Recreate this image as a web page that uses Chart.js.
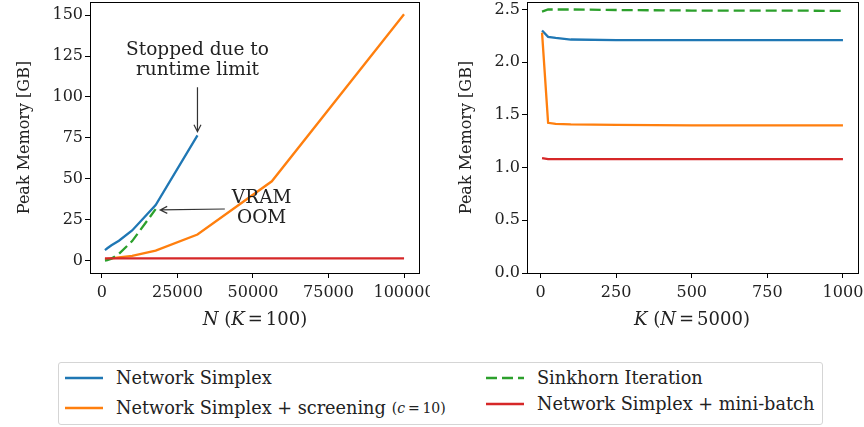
<!DOCTYPE html>
<html>
<head>
<meta charset="utf-8">
<script src="https://cdn.jsdelivr.net/npm/chart.js@4.4.0/dist/chart.umd.min.js"></script>
<style>
  body { margin: 0; background: #fff; font-family: 'DejaVu Serif', serif; color: #222; }
  #wrap { position: relative; width: 864px; height: 427px; overflow: hidden; background: #fff; }
  canvas { position: absolute; top: 0; }
  #left { left: 0; }
  #right { left: 430px; }
  .xt { position: absolute; font-size: 18px; transform: translate(-50%, -50%); white-space: nowrap; }
  .xt .eq { margin: 0 3px; }
  #legend { position: absolute; left: 58px; top: 362px; width: 765px; height: 63px;
            border: 1px solid #d5d5d5; border-radius: 3px; box-sizing: border-box; }
  .item { position: absolute; font-size: 17.7px; white-space: nowrap; display: flex; align-items: center;
          transform: translateY(-50%); }
  .item svg { margin-right: 13px; }
  .item small { font-size: 14px; margin-left: 6px; }
</style>
</head>
<body>
<div id="wrap">
  <canvas id="left" width="430" height="340"></canvas>
  <canvas id="right" width="434" height="340"></canvas>
  <div class="xt" style="left:255px;top:318px"><i>N</i> (<i>K</i><span class="eq">=</span>100)</div>
  <div class="xt" style="left:692px;top:318px"><i>K</i> (<i>N</i><span class="eq">=</span>5000)</div>
  <div id="legend"></div>
</div>
<script>
// N sweep (K = 100), log spaced 1e3 .. 1e5
const nValues      = [1000, 1778, 3162, 5623, 10000, 17783, 31623, 56234, 100000];
const simplexByN   = [6.5, 7.6, 9.4, 12.2, 18.5, 34.0, 76.5];
const screeningByN = [1.0, 1.1, 1.4, 2.0, 3.0, 6.2, 16.0, 48.5, 150.5];
const sinkhornByN  = [0.1, 0.4, 1.3, 4.2, 12.0, 31.5];
const batchByN     = [1.4, 1.4, 1.4, 1.4, 1.4, 1.4, 1.4, 1.4, 1.4];

// K sweep (N = 5000)
const kValues      = [5, 25, 50, 100, 250, 500, 750, 1000];
const simplexByK   = [2.30, 2.24, 2.23, 2.215, 2.21, 2.21, 2.21, 2.21];
const screeningByK = [2.28, 1.425, 1.415, 1.41, 1.405, 1.40, 1.40, 1.40];
const sinkhornByK  = [2.48, 2.50, 2.50, 2.50, 2.495, 2.49, 2.49, 2.487];
const batchByK     = [1.09, 1.08, 1.08, 1.08, 1.08, 1.08, 1.08, 1.08];

// tick labels
const nTicks    = [0, 25000, 50000, 75000, 100000];
const kTicks    = [0, 250, 500, 750, 1000];
const memTicksN = [0, 25, 50, 75, 100, 125, 150];
const memTicksK = [0, 0.5, 1.0, 1.5, 2.0, 2.5];

const seriesNames  = ['Network Simplex', 'Network Simplex + screening', 'Sinkhorn Iteration', 'Network Simplex + mini-batch'];
const seriesColors = ['#1f77b4', '#ff7f0e', '#2ca02c', '#d62728'];
const greenDash = [11, 5];

const serif = { family: 'DejaVu Serif', size: 16 };

function makeSets(xs, cols) {
  return cols.map((ys, i) => ({
    label: seriesNames[i],
    data: ys.map((y, j) => ({ x: xs[j], y })),
    borderColor: seriesColors[i],
    borderWidth: 2.3,
    borderDash: i === 2 ? greenDash : [],
    pointRadius: 0,
    fill: false,
    tension: 0,
    order: 4 - i   // later series drawn on top, like matplotlib
  }));
}

function axes(o) {
  const tickGrid = { drawOnChartArea: false, drawTicks: true, tickLength: 5, color: '#000', lineWidth: 1 };
  return {
    x: {
      type: 'linear', min: o.xmin, max: o.xmax,
      afterBuildTicks: s => { s.ticks = o.xticks.map(v => ({ value: v })); },
      afterFit: s => { s.height = o.xh; s.paddingLeft = 0; s.paddingRight = 0; },
      grid: tickGrid, border: { color: '#000' },
      ticks: { padding: 5, maxRotation: 0, autoSkip: false, color: '#222', font: serif, callback: v => String(v) }
    },
    y: {
      type: 'linear', min: o.ymin, max: o.ymax,
      afterBuildTicks: s => { s.ticks = o.yticks.map(v => ({ value: v })); },
      afterFit: s => { s.width = o.yw; s.paddingTop = 0; s.paddingBottom = 0; },
      grid: tickGrid, border: { color: '#000' },
      ticks: { padding: 2, autoSkip: false, color: '#222', font: serif, callback: o.yfmt },
      title: { display: true, text: 'Peak Memory [GB]', color: '#222', padding: { top: o.titlePad }, font: serif }
    }
  };
}

// full box around the plot area
const frame = {
  id: 'frame',
  afterDraw(c) {
    const { left, top, right, bottom } = c.chartArea;
    const ctx = c.ctx;
    ctx.save();
    ctx.strokeStyle = '#000';
    ctx.lineWidth = 1;
    ctx.strokeRect(Math.round(left) + 0.5, Math.round(top) + 0.5, Math.round(right - left), Math.round(bottom - top));
    ctx.restore();
  }
};

// annotations of the N plot, in data coordinates
const notes = [
  { lines: ['Stopped due to', 'runtime limit'], at: [31623, 122.5], tip: [31623, 78.8], align: 'center' },
  { lines: ['VRAM', 'OOM'], at: [43000, 31.9], tip: [19300, 31], align: 'left' }
];

const annotate = {
  id: 'annotate',
  afterDatasetsDraw(c) {
    const ctx = c.ctx, xs = c.scales.x, ys = c.scales.y;
    ctx.save();
    ctx.font = "18.5px 'DejaVu Serif'";
    ctx.fillStyle = '#222';
    ctx.textBaseline = 'middle';
    notes.forEach(n => {
      const w = Math.max(...n.lines.map(t => ctx.measureText(t).width));
      const h = n.lines.length * 20;
      const x = xs.getPixelForValue(n.at[0]);
      const y = ys.getPixelForValue(n.at[1]);
      const cx = n.align === 'left' ? x + w / 2 : x;
      ctx.textAlign = 'center';
      n.lines.forEach((t, i) => ctx.fillText(t, cx, y + (i - (n.lines.length - 1) / 2) * 20));

      const tx = xs.getPixelForValue(n.tip[0]), ty = ys.getPixelForValue(n.tip[1]);
      const dx = tx - cx, dy = ty - y, len = Math.hypot(dx, dy);
      const s = Math.min(dx ? (w / 2) / Math.abs(dx) : Infinity, dy ? (h / 2) / Math.abs(dy) : Infinity);
      const sx = cx + dx * s + dx / len * 7, sy = y + dy * s + dy / len * 7;
      const ux = dx / len, uy = dy / len;
      ctx.strokeStyle = '#333';
      ctx.lineWidth = 1.2;
      ctx.beginPath();
      ctx.moveTo(sx, sy); ctx.lineTo(tx, ty);
      ctx.moveTo(tx - ux * 7 - uy * 3.5, ty - uy * 7 + ux * 3.5);
      ctx.lineTo(tx, ty);
      ctx.lineTo(tx - ux * 7 + uy * 3.5, ty - uy * 7 - ux * 3.5);
      ctx.stroke();
    });
    ctx.restore();
  }
};

new Chart(document.getElementById('left'), {
  type: 'line',
  data: { datasets: makeSets(nValues, [simplexByN, screeningByN, sinkhornByN, batchByN]) },
  options: {
    responsive: false, animation: false,
    layout: { padding: { left: 0, top: 2, right: 11, bottom: 0 } },
    plugins: { legend: { display: false }, tooltip: { enabled: false } },
    scales: axes({ xmin: -3950, xmax: 104950, xticks: nTicks, xh: 67,
                   ymin: -7.5, ymax: 158, yticks: memTicksN, yw: 90, titlePad: 15,
                   yfmt: v => String(v) })
  },
  plugins: [frame, annotate]
});

new Chart(document.getElementById('right'), {
  type: 'line',
  data: { datasets: makeSets(kValues, [simplexByK, screeningByK, sinkhornByK, batchByK]) },
  options: {
    responsive: false, animation: false,
    layout: { padding: { left: 0, top: 2, right: 6, bottom: 0 } },
    plugins: { legend: { display: false }, tooltip: { enabled: false } },
    scales: axes({ xmin: -44.75, xmax: 1049.75, xticks: kTicks, xh: 67,
                   ymin: 0, ymax: 2.571, yticks: memTicksK, yw: 97, titlePad: 27,
                   yfmt: v => v.toFixed(1) })
  },
  plugins: [frame]
});

// legend below both panels (left offset of the line sample, vertical centre of the row)
const legendSlots = [[6, 14.5], [6, 44.5], [427, 14.5], [427, 41]];
const legend = document.getElementById('legend');
seriesNames.forEach((name, i) => {
  const el = document.createElement('div');
  el.className = 'item';
  el.style.left = legendSlots[i][0] + 'px';
  el.style.top = legendSlots[i][1] + 'px';
  const dash = i === 2 ? `stroke-dasharray="${greenDash.join(' ')}"` : '';
  el.innerHTML = `<svg width="38" height="6"><line x1="0" y1="3" x2="38" y2="3" stroke="${seriesColors[i]}" stroke-width="2.6" ${dash}/></svg>` +
    `<span>${name}</span>` + (i === 1 ? '<small>(<i>c</i>&thinsp;=&thinsp;10)</small>' : '');
  legend.appendChild(el);
});
</script>
</body>
</html>
